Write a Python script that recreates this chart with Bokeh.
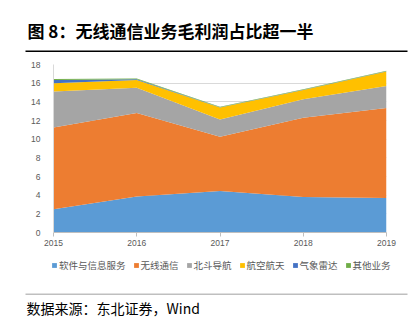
from bokeh.plotting import figure
from bokeh.layouts import column
from bokeh.models import ColumnDataSource, FixedTicker, Label, Legend
from bokeh.embed import file_html
from bokeh.resources import INLINE

years = [2015, 2016, 2017, 2018, 2019]
software = [2.5, 3.85, 4.45, 3.8, 3.7]
wireless = [8.75, 8.95, 5.8, 8.5, 9.65]
beidou = [3.85, 2.7, 1.85, 1.97, 2.35]
aerospace = [0.9, 0.85, 1.3, 1.0, 1.55]
radar = [0.35, 0.07, 0.03, 0.03, 0.03]
other = [0.1, 0.08, 0.05, 0.05, 0.05]

series_names = ["软件与信息服务", "无线通信", "北斗导航", "航空航天", "气象雷达", "其他业务"]
colors = ["#5B9BD5", "#ED7D31", "#A5A5A5", "#FFC000", "#4472C4", "#70AD47"]
y_ticks = [0, 2, 4, 6, 8, 10, 12, 14, 16, 18]

title_text = "图  8：无线通信业务毛利润占比超一半"
source_text = "数据来源：东北证券，Wind"

keys = ["s0", "s1", "s2", "s3", "s4", "s5"]
src = ColumnDataSource(dict(x=years, s0=software, s1=wireless, s2=beidou,
                            s3=aerospace, s4=radar, s5=other))

W = 415
TOP_H = 52
MAIN_H = 200
LEG_H = 41
BOT_H = 324 - TOP_H - MAIN_H - LEG_H


def plain_fig(h):
    f = figure(width=W, height=h, output_backend="svg", toolbar_location=None,
               x_range=(0, W), y_range=(h, 0),
               x_axis_location=None, y_axis_location=None, min_border=0,
               frame_align=False)
    f.outline_line_color = None
    f.xgrid.visible = False
    f.ygrid.visible = False
    f.background_fill_color = "white"
    f.border_fill_color = "white"
    return f


# --- title strip ---
top = plain_fig(TOP_H)
top.add_layout(Label(x=27, y=29.5, text=title_text, text_font="Noto Sans CJK SC",
                     text_font_style="bold", text_font_size="17px",
                     text_color="#000000", text_baseline="middle"))
top.segment(x0=[25], y0=[50.8], x1=[407], y1=[50.8], line_color="#000000", line_width=1.4)

# --- main chart ---
p = figure(width=W, height=MAIN_H, output_backend="svg", toolbar_location=None,
           x_range=(2015, 2019), y_range=(0, 18), frame_align=False)
p.min_border_left = 53
p.min_border_right = 29
p.min_border_top = 64 - TOP_H
p.min_border_bottom = TOP_H + MAIN_H - 232
p.outline_line_color = None
p.background_fill_color = "white"
p.border_fill_color = "white"

p.varea_stack(stackers=keys, x="x", color=colors, source=src)

p.xgrid.visible = False
p.ygrid.grid_line_color = "#D9D9D9"
p.ygrid.ticker = FixedTicker(ticks=y_ticks)

p.yaxis.ticker = FixedTicker(ticks=y_ticks)
p.yaxis.axis_line_color = "#D9D9D9"
p.yaxis.major_tick_line_color = None
p.yaxis.minor_tick_line_color = None
p.yaxis.major_label_standoff = 7
p.yaxis.major_label_text_font_size = "8.5px"
p.yaxis.major_label_text_color = "#595959"
p.yaxis.major_label_text_font = "Liberation Sans"

p.xaxis.ticker = FixedTicker(ticks=years)
p.xaxis.axis_line_color = "#BFBFBF"
p.xaxis.major_tick_line_color = "#BFBFBF"
p.xaxis.major_tick_out = 4
p.xaxis.major_tick_in = 0
p.xaxis.minor_tick_line_color = None
p.xaxis.major_label_standoff = 3
p.xaxis.major_label_text_font_size = "8.5px"
p.xaxis.major_label_text_color = "#595959"
p.xaxis.major_label_text_font = "Liberation Sans"

# --- legend strip (legend swatches via off-range proxy glyphs) ---
leg = plain_fig(LEG_H)
leg_rs = [leg.varea(x=[-20, -10], y1=[0, 0], y2=[1, 1], color=c) for c in colors]
legend = Legend(items=[(n, [r]) for n, r in zip(series_names, leg_rs)],
                orientation="horizontal", location=(51, LEG_H - 20),
                glyph_width=6, glyph_height=6, label_standoff=2, spacing=7,
                padding=0, margin=0, label_height=10,
                label_text_font_size="9.5px", label_text_color="#595959",
                label_text_font="Noto Sans CJK SC",
                background_fill_alpha=0, border_line_alpha=0)
leg.add_layout(legend, "center")

# --- source strip ---
bot = plain_fig(BOT_H)
bot.segment(x0=[25], y0=[0.5], x1=[407], y1=[0.5], line_color="#808080", line_width=1.2)
bot.add_layout(Label(x=26, y=14.5, text=source_text, text_font="Noto Sans CJK SC",
                     text_font_size="14px", text_color="#000000",
                     text_baseline="middle"))

layout = column(top, p, leg, bot, spacing=0)
open("out.html", "w").write(file_html(layout, INLINE))
